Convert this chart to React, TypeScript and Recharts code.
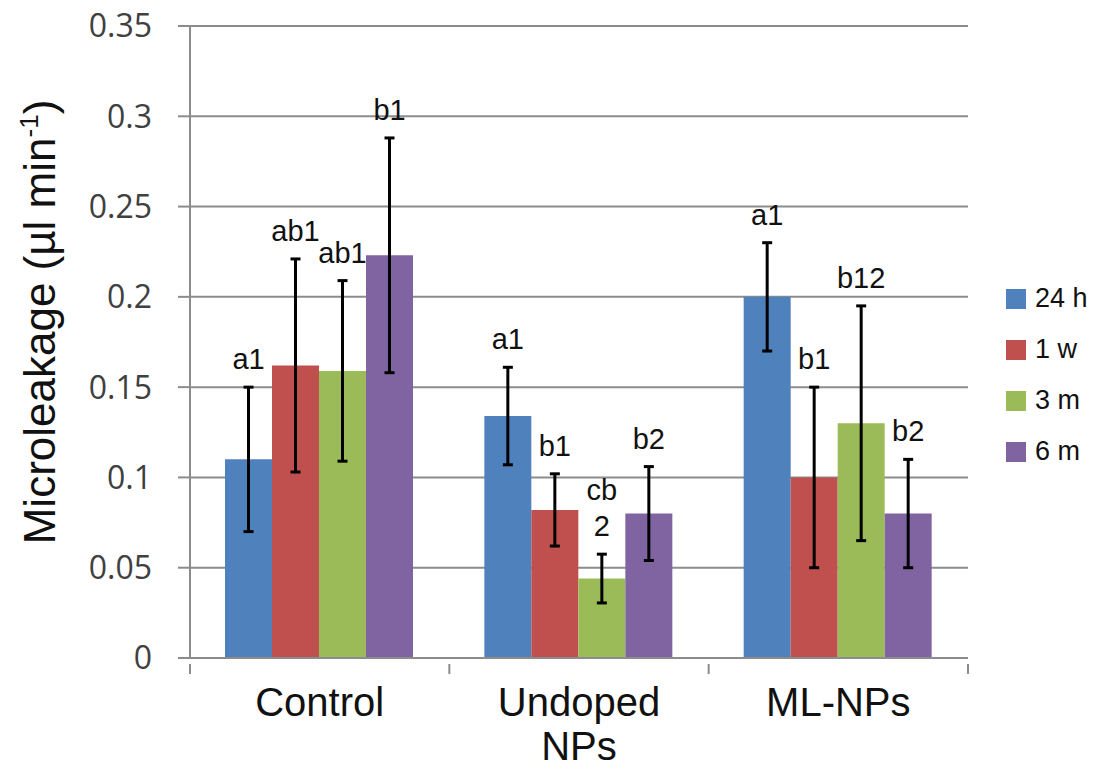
import { Bar, BarChart, CartesianGrid, ErrorBar, LabelList, Legend, XAxis, YAxis } from 'recharts'

const groups = ['Control', 'Undoped\nNPs', 'ML-NPs']

const series = ['24 h', '1 w', '3 m', '6 m']
const colors = ['#4F81BD', '#C0504D', '#9BBB59', '#8064A2']

const h24 = [0.11, 0.134, 0.2]
const w1 = [0.162, 0.082, 0.1]
const m3 = [0.159, 0.044, 0.13]
const m6 = [0.223, 0.08, 0.08]

const errH24 = [0.04, 0.027, 0.03]
const errW1 = [0.059, 0.02, 0.05]
const errM3 = [0.05, 0.0135, 0.065]
const errM6 = [0.065, 0.026, 0.03]

const letH24 = ['a1', 'a1', 'a1']
const letW1 = ['ab1', 'b1', 'b1']
const letM3 = ['ab1', 'cb\n2', 'b12']
const letM6 = ['b1', 'b2', 'b2']

const yTicks = [0, 0.05, 0.1, 0.15, 0.2, 0.25, 0.3, 0.35]

const FONT = '"Liberation Sans", Arial, sans-serif'
const TICK_FONT = '"Open Sans", "Liberation Sans", sans-serif'
const W = 1107
const H = 771
const MARGIN = { top: 26, right: 34, bottom: 13, left: 0 }
const Y_W = 190
const LEGEND_W = 105
const PLOT_W = W - MARGIN.left - MARGIN.right - Y_W - LEGEND_W
const BAND = PLOT_W / groups.length

const vals = [h24, w1, m3, m6]
const errs = [errH24, errW1, errM3, errM6]
const lets = [letH24, letW1, letM3, letM6]

const data = groups.map((g, i) => {
  const row: Record<string, string | number> = { name: g }
  series.forEach((s, k) => {
    row['v' + k] = vals[k][i]
    row['e' + k] = errs[k][i]
    row['l' + k] = lets[k][i]
  })
  return row
})

// letter label sits just above the top of the error bar
function makeLetter(k: number) {
  return (props: any) => {
    const { x, y, width, height, index } = props
    const v = vals[k][index]
    const e = errs[k][index]
    if (v == null || !height) return null
    const perUnit = height / v
    const topY = y - e * perUnit
    const lines = String(lets[k][index]).split('\n')
    const cx = x + width / 2
    return (
      <text x={cx} textAnchor="middle" fontSize={29} fontFamily={FONT} fill="#111">
        {lines.map((ln, j) => (
          <tspan key={j} x={cx} y={topY - 18 - (lines.length - 1 - j) * 36}>{ln}</tspan>
        ))}
      </text>
    )
  }
}

function XTick(props: any) {
  const { x, y, payload, index } = props
  const lines = String(payload.value).split('\n')
  const axisY = y - 2
  return (
    <g>
      {index === 0 && <line x1={x - BAND / 2} x2={x - BAND / 2} y1={axisY} y2={axisY + 10} stroke="#8c8c8c" strokeWidth={2} />}
      <line x1={x + BAND / 2} x2={x + BAND / 2} y1={axisY} y2={axisY + 10} stroke="#8c8c8c" strokeWidth={2} />
      <text x={x} textAnchor="middle" fontSize={40} fontFamily={FONT} fill="#111">
        {lines.map((ln, j) => (
          <tspan key={j} x={x} y={axisY + 52 + j * 44}>{ln}</tspan>
        ))}
      </text>
    </g>
  )
}

function YLabel(props: any) {
  const { viewBox } = props
  const cy = viewBox.y + viewBox.height / 2 - 20
  const cx = 55
  return (
    <text x={cx} y={cy} transform={`rotate(-90 ${cx} ${cy})`} textAnchor="middle" fontSize={44} fontFamily={FONT} fill="#111">
      Microleakage (µl min<tspan fontSize={26} dy={-17}>-1</tspan><tspan dy={17}>)</tspan>
    </text>
  )
}

function LegendBox() {
  return (
    <div style={{ fontFamily: FONT, fontSize: 27, color: '#111' }}>
      {series.map((s, k) => (
        <div key={s} style={{ display: 'flex', alignItems: 'center', height: 51 }}>
          <span style={{ display: 'inline-block', width: 20, height: 20, background: colors[k], marginRight: 9 }} />
          {s}
        </div>
      ))}
    </div>
  )
}

export default function App() {
  return (
    <div style={{ position: 'absolute', left: 0, top: 0, background: '#fff' }}>
      <BarChart width={W} height={H} data={data} margin={MARGIN} barCategoryGap="13.5%" barGap={0}>
        <CartesianGrid vertical={false} stroke="#8c8c8c" strokeWidth={2} />
        <XAxis
          dataKey="name"
          height={100}
          axisLine={{ stroke: '#8c8c8c', strokeWidth: 2 }}
          tickLine={false}
          tick={<XTick />}
          interval={0}
        />
        <YAxis
          width={Y_W}
          domain={[0, 0.35]}
          ticks={yTicks}
          axisLine={{ stroke: '#8c8c8c', strokeWidth: 2 }}
          tickLine={{ stroke: '#8c8c8c', strokeWidth: 2 }}
          tickSize={12}
          tickMargin={26}
          tick={{ fontSize: 32, fontFamily: TICK_FONT, fill: '#404040' }}
          label={{ content: <YLabel /> }}
        />
        <Legend
          layout="vertical"
          align="right"
          verticalAlign="middle"
          content={<LegendBox />}
          wrapperStyle={{ width: LEGEND_W, left: 1006, top: 273 }}
        />
        {series.map((s, k) => (
          <Bar key={s} dataKey={'v' + k} name={s} fill={colors[k]} isAnimationActive={false}>
            <ErrorBar dataKey={'e' + k} width={5} strokeWidth={3} stroke="#000" direction="y" isAnimationActive={false} />
            <LabelList dataKey={'l' + k} content={makeLetter(k)} />
          </Bar>
        ))}
      </BarChart>
    </div>
  )
}
